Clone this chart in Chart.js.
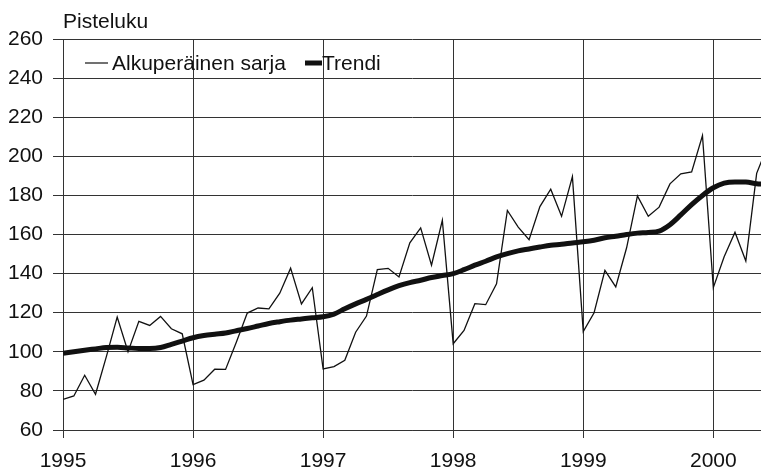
<!DOCTYPE html>
<html lang="fi">
<head>
  <meta charset="UTF-8">
  <title>Pisteluku – alkuperäinen sarja ja trendi</title>
  <script src="https://cdn.jsdelivr.net/npm/chart.js@4.4.0/dist/chart.umd.min.js"></script>
  <style>
    html, body { margin: 0; padding: 0; background: #fff; }
    #wrap { width: 761px; height: 473px; position: relative; }
  </style>
</head>
<body>
  <div id="wrap"><canvas id="chart"></canvas></div>

  <script>
    // kuukausittaiset havainnot, tammikuu 1995 alkaen
    const yearLabels = ['1995', '1996', '1997', '1998', '1999', '2000'];
    const yTicks = [60, 80, 100, 120, 140, 160, 180, 200, 220, 240, 260];

    const alkuperainen = [
      75.7, 77.4, 88.0, 78.3, 97.5, 117.8, 100.0, 115.6, 113.5, 118.1, 111.8, 109.2,
      83.2, 85.5, 91.1, 91.0, 105.0, 119.8, 122.4, 122.0, 130.0, 142.8, 124.5, 132.8,
      91.2, 92.4, 95.7, 110.0, 118.3, 142.0, 142.7, 138.3, 155.7, 163.4, 144.3, 167.3,
      104.1, 110.9, 124.6, 124.1, 134.8, 172.3, 163.8, 157.3, 174.3, 183.2, 169.3, 189.6,
      110.3, 120.0, 141.7, 133.2, 153.2, 179.7, 169.3, 174.0, 185.9, 191.0, 192.0, 210.6,
      132.8, 148.6, 161.2, 146.4, 191.3, 205.0
    ];

    const trendi = [
      99.2, 100.0, 100.8, 101.5, 102.2, 102.3, 102.0, 101.7, 101.7, 102.2, 103.8, 105.5,
      107.2, 108.3, 109.0, 109.6, 110.8, 111.9, 113.2, 114.5, 115.4, 116.2, 116.8, 117.4,
      117.9, 119.3, 122.0, 124.5, 126.8, 129.3, 131.7, 133.8, 135.4, 136.6, 138.0, 139.0,
      140.0, 142.0, 144.3, 146.3, 148.5, 150.2, 151.6, 152.6, 153.6, 154.5, 155.0, 155.7,
      156.3, 157.1, 158.3, 159.1, 160.0, 160.7, 161.0, 161.7, 165.0, 170.0, 175.3, 180.0,
      183.9, 186.3, 186.9, 186.8, 186.0, 185.5
    ];

    const xMax = 64.4;  // akseli loppuu touko-kesäkuun 2000 kohdalla
    const FONT = "'Liberation Sans', Arial, sans-serif";
    const INK = '#111';
    const GRID = '#333';

    const toPoints = arr => arr.map((v, i) => ({ x: i, y: v }));

    // otsikko ja selite piirretään käsin kuvaajan päälle
    const overlay = {
      id: 'overlay',
      afterDraw(chart) {
        const ctx = chart.ctx;
        const a = chart.chartArea;
        ctx.save();
        ctx.fillStyle = INK;
        ctx.textBaseline = 'alphabetic';
        ctx.textAlign = 'left';
        ctx.font = '21px ' + FONT;
        ctx.fillText('Pisteluku', a.left, 28);

        const ly = a.top + 24;
        ctx.strokeStyle = INK;
        ctx.lineWidth = 1.2;
        ctx.beginPath();
        ctx.moveTo(a.left + 22, ly);
        ctx.lineTo(a.left + 45, ly);
        ctx.stroke();
        ctx.textBaseline = 'middle';
        ctx.fillText('Alkuperäinen sarja', a.left + 49, ly + 1);

        ctx.lineWidth = 5;
        ctx.beginPath();
        ctx.moveTo(a.left + 242, ly);
        ctx.lineTo(a.left + 259, ly);
        ctx.stroke();
        ctx.fillText('Trendi', a.left + 259, ly + 1);
        ctx.restore();
      }
    };

    new Chart(document.getElementById('chart'), {
      type: 'line',
      data: {
        datasets: [
          {
            label: 'Alkuperäinen sarja',
            data: toPoints(alkuperainen),
            borderColor: INK,
            borderWidth: 1.3,
            pointRadius: 0,
            tension: 0,
            fill: false
          },
          {
            label: 'Trendi',
            data: toPoints(trendi),
            borderColor: INK,
            borderWidth: 5,
            pointRadius: 0,
            cubicInterpolationMode: 'monotone',
            fill: false
          }
        ]
      },
      options: {
        responsive: true,
        maintainAspectRatio: false,
        animation: false,
        layout: { padding: { top: 39, right: 0, bottom: 0, left: 0 } },
        plugins: {
          legend: { display: false },
          title: { display: false },
          tooltip: { enabled: false }
        },
        scales: {
          x: {
            type: 'linear',
            min: 0,
            max: xMax,
            afterBuildTicks: scale => {
              scale.ticks = yearLabels.map((_, i) => ({ value: i * 12 }));
            },
            afterFit: scale => { scale.height = 43; },
            ticks: {
              autoSkip: false,
              maxRotation: 0,
              padding: 11,
              color: INK,
              font: { family: FONT, size: 21 },
              callback: v => yearLabels[Math.round(v / 12)]
            },
            grid: { color: GRID, lineWidth: 1, tickLength: 8 },
            border: { color: GRID, width: 1 }
          },
          y: {
            min: 60,
            max: 260,
            afterBuildTicks: scale => {
              scale.ticks = yTicks.map(v => ({ value: v }));
            },
            afterFit: scale => { scale.width = 63; },
            ticks: {
              padding: 10,
              color: INK,
              font: { family: FONT, size: 21 }
            },
            grid: { color: GRID, lineWidth: 1, tickLength: 10 },
            border: { color: GRID, width: 1 }
          }
        }
      },
      plugins: [overlay]
    });
  </script>
</body>
</html>
